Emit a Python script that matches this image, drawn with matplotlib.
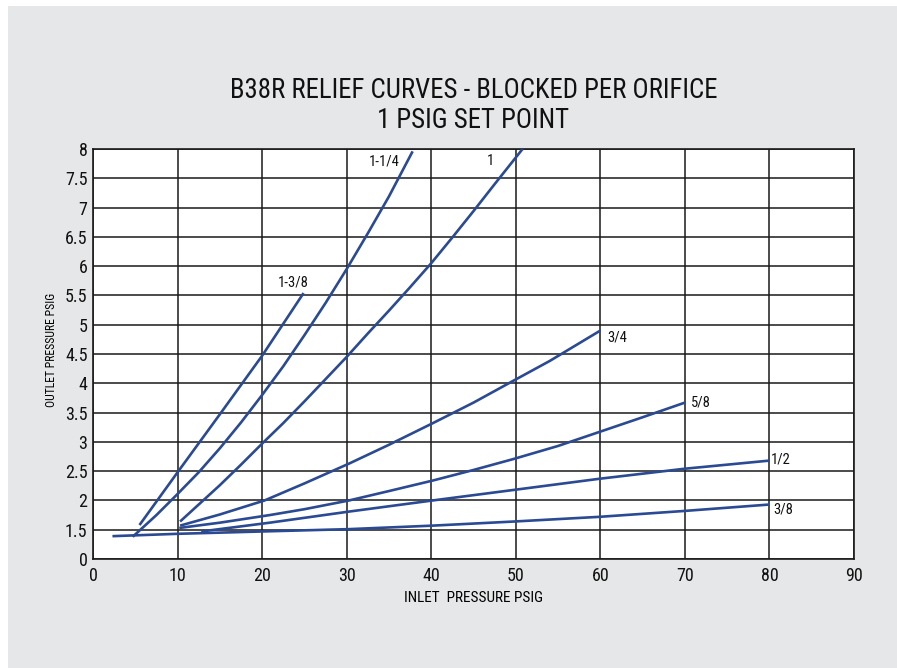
import numpy as np
import matplotlib
matplotlib.use('Agg')
import matplotlib.pyplot as plt
from matplotlib.patches import Rectangle
from matplotlib import font_manager as fm

#=======================================================================================
# Curve data (inlet psig, outlet psig)
#=======================================================================================

x_1_38 = [5.5, 10.0, 15.0, 20.0, 24.9]
y_1_38 = [1.58, 2.48, 3.47, 4.47, 5.54]

x_1_14 = [4.7, 7.5, 10.0, 12.5, 15.0, 17.5, 20.0, 22.5, 25.0, 27.5, 30.0, 32.5, 35.0, 37.8]
y_1_14 = [1.38, 1.75, 2.11, 2.48, 2.89, 3.33, 3.80, 4.29, 4.82, 5.37, 5.95, 6.56, 7.19, 7.96]

x_1 = [10.3, 12.5, 15.0, 17.5, 20.0, 22.5, 25.0, 27.5, 30.0, 32.5, 35.0, 37.5, 40.0, 42.5, 45.0, 47.5, 50.8]
y_1 = [1.64, 1.93, 2.26, 2.61, 2.97, 3.32, 3.69, 4.07, 4.45, 4.85, 5.24, 5.64, 6.05, 6.49, 6.94, 7.40, 8.0]

x_34 = [10.3, 15.0, 20.3, 25.0, 30.3, 35.0, 40.2, 45.0, 49.8, 54.0, 60.0]
y_34 = [1.57, 1.76, 2.0, 2.29, 2.63, 2.95, 3.32, 3.67, 4.05, 4.38, 4.9]

x_58 = [10.2, 15.0, 20.9, 25.0, 30.3, 35.0, 40.2, 45.0, 49.8, 55.0, 59.9, 65.0, 70.0]
y_58 = [1.53, 1.62, 1.75, 1.85, 2.0, 2.16, 2.34, 2.52, 2.71, 2.93, 3.17, 3.42, 3.67]

x_12 = [12.8, 20.9, 30.3, 40.2, 49.8, 59.9, 69.9, 80.0]
y_12 = [1.47, 1.62, 1.81, 2.0, 2.18, 2.37, 2.54, 2.68]

x_38 = [2.3, 10.0, 20.0, 30.3, 40.2, 49.8, 59.9, 69.9, 80.0]
y_38 = [1.39, 1.43, 1.47, 1.51, 1.57, 1.64, 1.72, 1.82, 1.93]

curve_names = ['1-3/8', '1-1/4', '1', '3/4', '5/8', '1/2', '3/8']
curve_x = [x_1_38, x_1_14, x_1, x_34, x_58, x_12, x_38]
curve_y = [y_1_38, y_1_14, y_1, y_34, y_58, y_12, y_38]

# axis ticks (bottom of the axis is a break, labelled 0)
x_ticks = [0, 10, 20, 30, 40, 50, 60, 70, 80, 90]
y_ticks = [1.0, 1.5, 2.0, 2.5, 3.0, 3.5, 4.0, 4.5, 5.0, 5.5, 6.0, 6.5, 7.0, 7.5, 8.0]
y_ticklabels = ['0', '1.5', '2', '2.5', '3', '3.5', '4', '4.5', '5', '5.5', '6', '6.5', '7', '7.5', '8']

# where each orifice label sits (data coords) and its alignment
label_pos = {'1-3/8': (23.7, 5.72, 'center'), '1-1/4': (34.4, 7.79, 'center'),
             '1': (47.0, 7.79, 'center'), '3/4': (60.8, 4.78, 'left'),
             '5/8': (70.7, 3.67, 'left'), '1/2': (80.2, 2.70, 'left'),
             '3/8': (80.4, 1.84, 'left')}

#=======================================================================================
# Pick a condensed sans if one is installed
#=======================================================================================

narrow = None
for key in ['liberationsansnarrow-regular', 'robotocondensed-regular', 'dejavusanscondensed.',
            'opensans_condensed', 'narrow', 'condensed']:
	for f in fm.fontManager.ttflist:
		fn = f.fname.lower().replace(' ', '')
		if key in fn and 'bold' not in fn and 'italic' not in fn and 'oblique' not in fn:
			narrow = f.fname
			break
	if narrow:
		break

if narrow:
	fm.fontManager.addfont(narrow)
	fam = fm.FontProperties(fname=narrow).get_name()
	plt.rcParams['font.family'] = [fam, 'DejaVu Sans']
	scale = 1.0
else:
	plt.rcParams['font.family'] = ['Liberation Sans', 'DejaVu Sans']
	scale = 0.9

#=======================================================================================
# Plot
#=======================================================================================

fig = plt.figure(figsize=(8.97, 6.68), dpi=100)
fig.patch.set_facecolor('white')
fig.patches.append(Rectangle((8/897, 0), 1, (668-6)/668, transform=fig.transFigure,
                             facecolor='#e6e7e8', edgecolor='none', zorder=-10))

ax = fig.add_axes([93/897, (668-559)/668, 761/897, 410/668])
ax.set_facecolor('white')

line_col = '#2a4a94'
for name, xs, ys in zip(curve_names, curve_x, curve_y):
	ax.plot(xs, ys, '-', color=line_col, linewidth=1.9, solid_capstyle='butt',
	        solid_joinstyle='round', zorder=3)
	lx, ly, ha = label_pos[name]
	ax.text(lx, ly, name, ha=ha, va='center', fontsize=10.5*scale, color='#111111', zorder=4)

ax.set_xlim(0, 90)
ax.set_ylim(1, 8)
ax.set_xticks(x_ticks)
ax.set_yticks(y_ticks)
ax.set_yticklabels(y_ticklabels)
ax.tick_params(axis='both', length=0, labelsize=13*scale, colors='#111111')
ax.tick_params(axis='x', pad=6)
ax.tick_params(axis='y', pad=4)
ax.grid(True, color='#1a1a1a', linewidth=1.1)
ax.set_axisbelow(True)
for sp in ax.spines.values():
	sp.set_color('#1a1a1a')
	sp.set_linewidth(1.2)

ax.set_xlabel("INLET  PRESSURE PSIG", fontsize=11*scale, labelpad=4)
ax.set_ylabel("OUTLET PRESSURE PSIG", fontsize=8.5*scale)
ax.yaxis.set_label_coords(-0.046, 0.51)

fig.text(473.5/897, (668-90)/668, "B38R RELIEF CURVES - BLOCKED PER ORIFICE",
         ha='center', va='center', fontsize=19.4*scale, color='#111111')
fig.text(473.5/897, (668-120)/668, "1 PSIG SET POINT",
         ha='center', va='center', fontsize=19.4*scale, color='#111111')

plt.savefig("out.png", dpi=100)
plt.close()
